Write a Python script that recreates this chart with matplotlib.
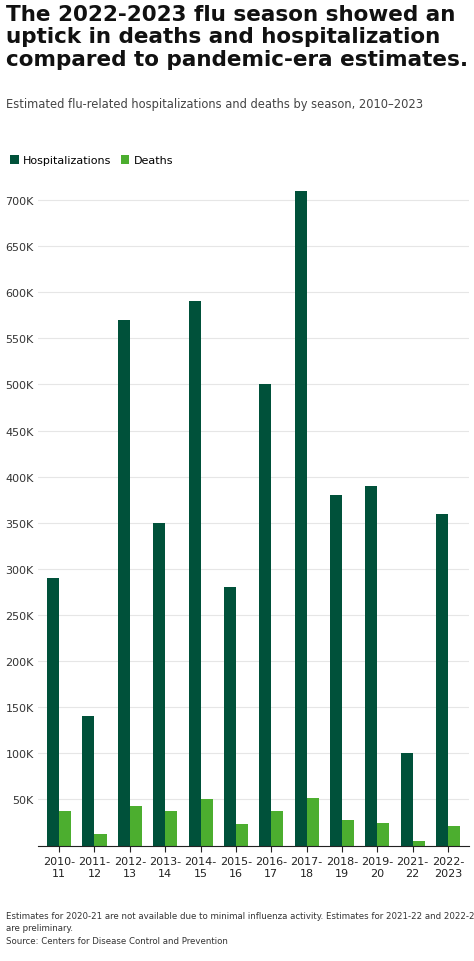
import matplotlib.pyplot as plt
import numpy as np

seasons = ["2010-\n11", "2011-\n12", "2012-\n13", "2013-\n14", "2014-\n15", "2015-\n16",
           "2016-\n17", "2017-\n18", "2018-\n19", "2019-\n20", "2021-\n22", "2022-\n2023"]
hospitalizations = [290000, 140000, 570000, 350000, 590000, 280000,
                    500000, 710000, 380000, 390000, 100000, 360000]
deaths = [37000, 12000, 43000, 38000, 51000, 23000,
          38000, 52000, 28000, 25000, 5000, 21000]
yticks = list(range(50000, 750000, 50000))

dark = "#00513a"
light = "#4cae2f"

fig = plt.figure(figsize=(4.74, 9.62), dpi=100)
ax = fig.add_axes([0.08, 0.12, 0.91, 0.695])

x = np.arange(len(seasons))
w = 0.34
ax.bar(x - w / 2, hospitalizations, w, color=dark, label="Hospitalizations")
ax.bar(x + w / 2, deaths, w, color=light, label="Deaths")

ax.set_xlim(-0.6, len(seasons) - 0.4)
ax.set_ylim(0, 725000)
ax.set_yticks(yticks)
ax.set_yticklabels([f"{v // 1000}K" for v in yticks], fontsize=8, color="#333333")
ax.tick_params(axis="y", length=0, pad=3)
ax.grid(axis="y", color="#e6e6e6", linewidth=0.8)
ax.set_axisbelow(True)
ax.set_xticks(x)
ax.set_xticklabels(seasons, fontsize=8, color="#222222")
ax.tick_params(axis="x", length=4, color="#222222")
for s in ["top", "right", "left"]:
    ax.spines[s].set_visible(False)
ax.spines["bottom"].set_color("#222222")

fig.text(0.012, 0.995, "The 2022-2023 flu season showed an\nuptick in deaths and hospitalization\ncompared to pandemic-era estimates.",
         fontsize=15.5, weight="semibold", va="top", ha="left", linespacing=1.15, color="#111111")
fig.text(0.012, 0.898, "Estimated flu-related hospitalizations and deaths by season, 2010\u20132023",
         fontsize=8.3, color="#444444", va="top")
fig.legend(loc="upper left", bbox_to_anchor=(0.0, 0.848), ncol=2, frameon=False,
           fontsize=8, handlelength=0.8, handleheight=0.8, handletextpad=0.4, columnspacing=0.8)
fig.text(0.012, 0.052, "Estimates for 2020-21 are not available due to minimal influenza activity. Estimates for 2021-22 and 2022-23\nare preliminary.\nSource: Centers for Disease Control and Prevention",
         fontsize=6.2, color="#333333", va="top", linespacing=1.5)

fig.savefig("out.png", dpi=100)
